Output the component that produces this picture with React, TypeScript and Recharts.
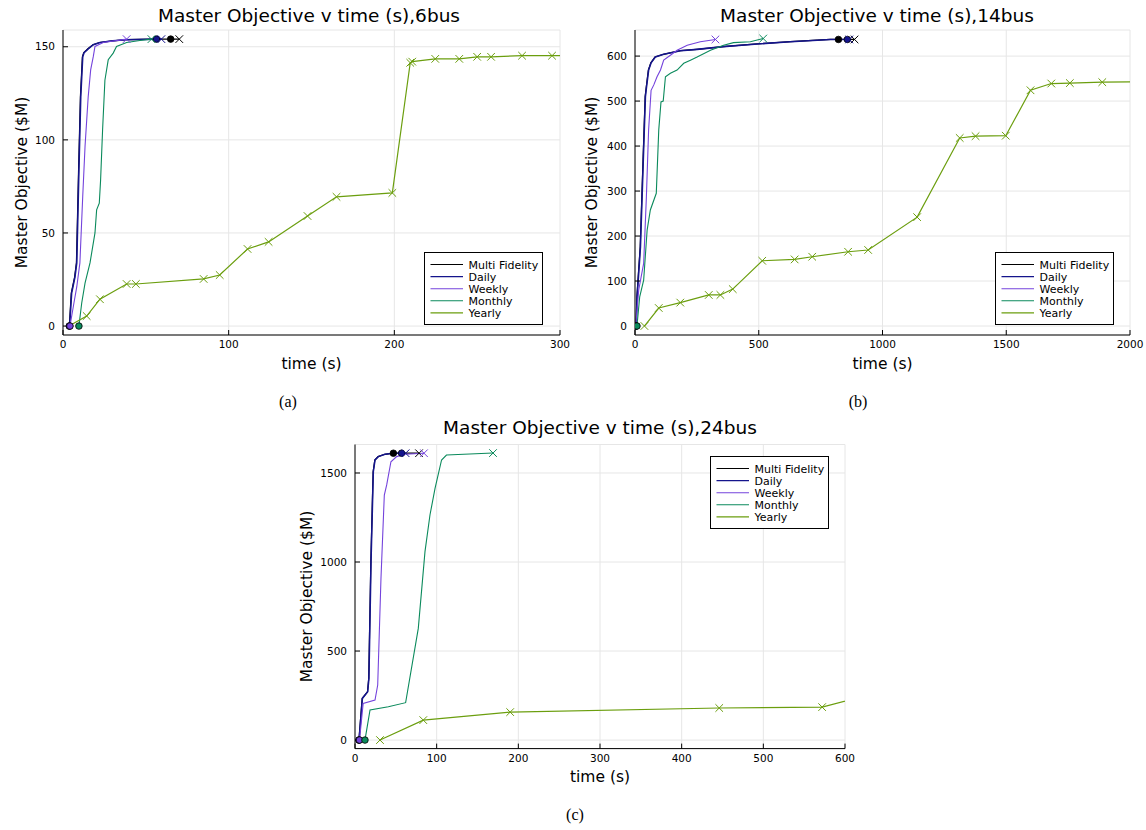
import { LineChart, Line, XAxis, YAxis, CartesianGrid } from "recharts"

// [time (s), objective ($M), marker]  marker: "o" circle, "x" cross, "d" dark circle
type Pt = [number, number, string?]

// ---- 6 bus ----
const mf6: Pt[] = [
    [3.8, 0, "o"], [5, 17.7], [7, 26.3], [8.1, 33.9], [9.4, 83.9], [10.5, 123], [11.7, 144.6],
    [12.5, 146.8], [15, 148.9], [18.1, 151.1], [22.1, 152.3], [30, 153.2], [38.3, 153.8],
    [56.4, 154.1], [65, 154.1, "d"], [70.2, 154.1, "x"],
]
const daily6: Pt[] = [
    [4, 0, "o"], [5.2, 17.7], [7.2, 26.3], [8.3, 33.9], [9.6, 83.9], [10.7, 123], [11.9, 144.6],
    [12.7, 146.8], [15.2, 148.9], [18.3, 151.1], [22.3, 152.3], [30.1, 153.2], [38.4, 153.8],
    [56.4, 154.1, "d"], [59.4, 154.1, "x"],
]
const weekly6: Pt[] = [
    [4.2, 0, "o"], [6.6, 12.4], [8.3, 21], [10.2, 33.9], [11.9, 69.5], [13.3, 96.4], [15.2, 123],
    [16.7, 137.6], [18.3, 144.8], [19.3, 150.2], [24.3, 152.3], [38.4, 154.1, "x"],
]
const monthly6: Pt[] = [
    [9.6, 0, "o"], [11.3, 12.4], [13.3, 23], [16.3, 33.9], [19.3, 50], [20.3, 62.4], [21.9, 66],
    [22.7, 78.5], [23.9, 105.4], [25.3, 132], [27.3, 143], [30.3, 146.6], [32.3, 150.2],
    [38.4, 152.3], [46.4, 153.4], [53.4, 154.1, "x"],
]
const yearly6: Pt[] = [
    [3.6, 0], [14.3, 5.4, "x"], [22.3, 14.4, "x"], [38.4, 22.6, "x"], [44, 22.6, "x"],
    [84.9, 25.3, "x"], [94.6, 27.4, "x"], [111.4, 41.4, "x"], [124.1, 45.2, "x"],
    [147.6, 59.1, "x"], [165.1, 69.4, "x"], [198.8, 71.5, "x"], [209.6, 141.4, "x"],
    [210.8, 142, "x"], [224.7, 143.5, "x"], [239.2, 143.5, "x"], [250, 144.6, "x"],
    [258.4, 144.6, "x"], [277.1, 145.2, "x"], [295.2, 145.2, "x"], [315, 145.3],
]

// ---- 14 bus ----
const mf14: Pt[] = [
    [4, 0, "o"], [7.5, 65], [21, 176], [32, 362], [41, 510], [45, 529], [54, 569], [64, 585],
    [81, 598], [115, 604], [183, 612], [250, 615], [356, 621], [493, 627], [627, 632],
    [790, 637], [822, 637, "d"], [887, 637, "x"],
]
const daily14: Pt[] = [
    [5, 0, "o"], [8.5, 65], [22, 176], [33, 362], [42, 510], [46, 529], [55, 569], [65, 585],
    [82, 598], [116, 604], [184, 612], [251, 615], [357, 621], [494, 627], [628, 632],
    [790, 637], [858, 637, "d"], [866, 637, "x"],
]
const weekly14: Pt[] = [
    [3, 0, "o"], [15, 80], [35, 139], [46, 287], [55, 436], [65, 524], [76, 536], [89, 554],
    [103, 569], [116, 591], [143, 602], [170, 613], [211, 624], [264, 632], [325, 637, "x"],
]
const monthly14: Pt[] = [
    [8, 0, "o"], [19, 65], [35, 102], [49, 213], [62, 258], [86, 295], [96, 436], [105, 498],
    [114, 500], [123, 554], [143, 562], [170, 569], [197, 584], [224, 591], [251, 598],
    [305, 613], [358, 624], [398, 630], [466, 632], [518, 639, "x"],
]
const yearly14: Pt[] = [
    [38, 0, "x"], [96, 40, "x"], [183, 52, "x"], [298, 69, "x"], [345, 69, "x"], [395, 82, "x"],
    [514, 145, "x"], [645, 148, "x"], [716, 154, "x"], [861, 165, "x"], [942, 169, "x"],
    [1140, 242, "x"], [1312, 418, "x"], [1376, 422, "x"], [1498, 423, "x"], [1598, 524, "x"],
    [1682, 539, "x"], [1757, 540, "x"], [1888, 542, "x"], [2100, 543],
]

// ---- 24 bus ----
const mf24: Pt[] = [
    [4.8, 0, "o"], [8.8, 234], [15.3, 271], [16.8, 346], [19.4, 1002], [22.2, 1507], [24.3, 1573],
    [28.3, 1592], [36.5, 1605], [47, 1611, "d"], [78.4, 1611, "x"],
]
const daily24: Pt[] = [
    [5, 0, "o"], [9, 234], [15.5, 271], [17, 346], [19.6, 1002], [22.4, 1507], [24.5, 1573],
    [28.5, 1592], [36.7, 1605], [47, 1611], [57, 1611, "d"], [62, 1611, "x"],
]
const weekly24: Pt[] = [
    [5.5, 0, "o"], [10, 206], [24.5, 225], [27.8, 309], [31.8, 908], [35.9, 1376], [38.8, 1433],
    [44, 1563], [51, 1592], [61, 1605], [84.5, 1611, "x"],
]
const monthly24: Pt[] = [
    [12.2, 0, "o"], [18.4, 169], [40.8, 187], [62, 210], [77.5, 627], [85.7, 1058], [91.8, 1264],
    [98, 1414], [106, 1573], [112, 1601], [169, 1612, "x"],
]
const yearly24: Pt[] = [
    [30.6, 0, "x"], [83.6, 112, "x"], [190, 157, "x"], [446, 180, "x"], [572, 185, "x"], [630, 255],
]

const seriesNames = ["Multi Fidelity", "Daily", "Weekly", "Monthly", "Yearly"]
const seriesColors = ["#000000", "#14148c", "#7443dc", "#0b8a5c", "#6b9e0e"]
const seriesWidths = [1.2, 1.6, 1.1, 1.1, 1.2]

const ticks6X = [0, 100, 200, 300]
const ticks6Y = [0, 50, 100, 150]
const ticks14X = [0, 500, 1000, 1500, 2000]
const ticks14Y = [0, 100, 200, 300, 400, 500, 600]
const ticks24X = [0, 100, 200, 300, 400, 500, 600]
const ticks24Y = [0, 500, 1000, 1500]

const FONT = "DejaVu Sans"

const toRows = (pts: Pt[]) => pts.map(([t, v, m]) => ({ t, v, m: m ?? "" }))

const renderMark = (color: string) => (p: any) => {
    const { cx, cy, payload, index } = p
    const k = `mk-${index}`
    if (cx == null || cy == null || !payload) return <g key={k} />
    if (payload.m === "o" || payload.m === "d") {
        return <circle key={k} cx={cx} cy={cy} r={3.3} fill={color} stroke="#000" strokeWidth={0.8} />
    }
    if (payload.m === "x") {
        const s = 3.8
        return (
            <path
                key={k}
                d={`M${cx - s},${cy - s}L${cx + s},${cy + s}M${cx - s},${cy + s}L${cx + s},${cy - s}`}
                stroke={color}
                strokeWidth={1}
                fill="none"
            />
        )
    }
    return <g key={k} />
}

interface PanelProps {
    left: number
    top: number
    width: number
    height: number
    marginTop: number
    marginRight: number
    yWidth: number
    xHeight: number
    xDomain: [number, number]
    yDomain: [number, number]
    xTicks: number[]
    yTicks: number[]
    series: Pt[][]
}

function Panel(p: PanelProps) {
    const tick = { fontSize: 10.5, fill: "#000", fontFamily: FONT }
    return (
        <div style={{ position: "absolute", left: p.left, top: p.top }}>
            <LineChart
                width={p.width}
                height={p.height}
                margin={{ top: p.marginTop, right: p.marginRight, bottom: 0, left: 0 }}
            >
                <CartesianGrid stroke="#e6e6e6" strokeWidth={1} />
                <XAxis
                    dataKey="t"
                    type="number"
                    domain={p.xDomain}
                    ticks={p.xTicks}
                    allowDataOverflow
                    height={p.xHeight}
                    tick={tick}
                    tickSize={-5}
                    tickMargin={11}
                    axisLine={{ stroke: "#000" }}
                    tickLine={{ stroke: "#000" }}
                />
                <YAxis
                    type="number"
                    domain={p.yDomain}
                    ticks={p.yTicks}
                    allowDataOverflow
                    width={p.yWidth}
                    tick={tick}
                    tickSize={-5}
                    tickMargin={13}
                    axisLine={{ stroke: "#000" }}
                    tickLine={{ stroke: "#000" }}
                />
                {p.series.map((pts, i) => (
                    <Line
                        key={seriesNames[i]}
                        data={toRows(pts)}
                        dataKey="v"
                        name={seriesNames[i]}
                        type="linear"
                        stroke={seriesColors[i]}
                        strokeWidth={seriesWidths[i]}
                        dot={renderMark(seriesColors[i])}
                        activeDot={false}
                        isAnimationActive={false}
                    />
                ))}
            </LineChart>
        </div>
    )
}

function LegendBox({ x, y }: { x: number; y: number }) {
    return (
        <g>
            <rect x={x} y={y} width={118} height={72} fill="#fff" stroke="#000" strokeWidth={1} />
            {seriesNames.map((n, i) => {
                const cy = y + 12 + i * 12.1
                return (
                    <g key={n}>
                        <line x1={x + 6} x2={x + 38.5} y1={cy} y2={cy} stroke={seriesColors[i]} strokeWidth={1.1} />
                        <text x={x + 44} y={cy + 4} fontSize={11} fontFamily={FONT} fill="#000">
                            {n}
                        </text>
                    </g>
                )
            })}
        </g>
    )
}

export default function App() {
    const title = { fontSize: 18.5, fontFamily: FONT, fill: "#000", textAnchor: "middle" as const }
    const axisLabel = { fontSize: 15.5, fontFamily: FONT, fill: "#000", textAnchor: "middle" as const }
    const caption = { fontSize: 16, fontFamily: "Liberation Serif", fill: "#000", textAnchor: "middle" as const }
    return (
        <div style={{ position: "absolute", left: 0, top: 0, width: 1146, height: 830, background: "#fff" }}>
            <Panel
                left={0} top={0} width={570} height={400} marginTop={30} marginRight={10} yWidth={63} xHeight={65}
                xDomain={[0, 300]} yDomain={[-4.8, 159]} xTicks={ticks6X} yTicks={ticks6Y}
                series={[mf6, daily6, weekly6, monthly6, yearly6]}
            />
            <Panel
                left={570} top={0} width={576} height={400} marginTop={30} marginRight={16} yWidth={65} xHeight={65}
                xDomain={[0, 2000]} yDomain={[-20, 658]} xTicks={ticks14X} yTicks={ticks14Y}
                series={[mf14, daily14, weekly14, monthly14, yearly14]}
            />
            <Panel
                left={290} top={400} width={565} height={400} marginTop={44.5} marginRight={10} yWidth={65} xHeight={51.4}
                xDomain={[0, 600]} yDomain={[-48, 1660]} xTicks={ticks24X} yTicks={ticks24Y}
                series={[mf24, daily24, weekly24, monthly24, yearly24]}
            />
            <svg width={1146} height={830} style={{ position: "absolute", left: 0, top: 0, pointerEvents: "none" }}>
                <text x={309} y={22} {...title}>Master Objective v time (s),6bus</text>
                <text x={877} y={22} {...title}>Master Objective v time (s),14bus</text>
                <text x={600} y={434} {...title}>Master Objective v time (s),24bus</text>

                <text x={311.5} y={369} {...axisLabel}>time (s)</text>
                <text x={882.5} y={369} {...axisLabel}>time (s)</text>
                <text x={600} y={782} {...axisLabel}>time (s)</text>

                <text transform="translate(26.5,182.5) rotate(-90)" {...axisLabel}>Master Objective ($M)</text>
                <text transform="translate(596.5,182.5) rotate(-90)" {...axisLabel}>Master Objective ($M)</text>
                <text transform="translate(311.5,596.5) rotate(-90)" {...axisLabel}>Master Objective ($M)</text>

                <LegendBox x={424.5} y={252.5} />
                <LegendBox x={995.5} y={252.5} />
                <LegendBox x={710.5} y={456.5} />

                <text x={288} y={407} {...caption}>(a)</text>
                <text x={858} y={407} {...caption}>(b)</text>
                <text x={575} y={820} {...caption}>(c)</text>
            </svg>
        </div>
    )
}
